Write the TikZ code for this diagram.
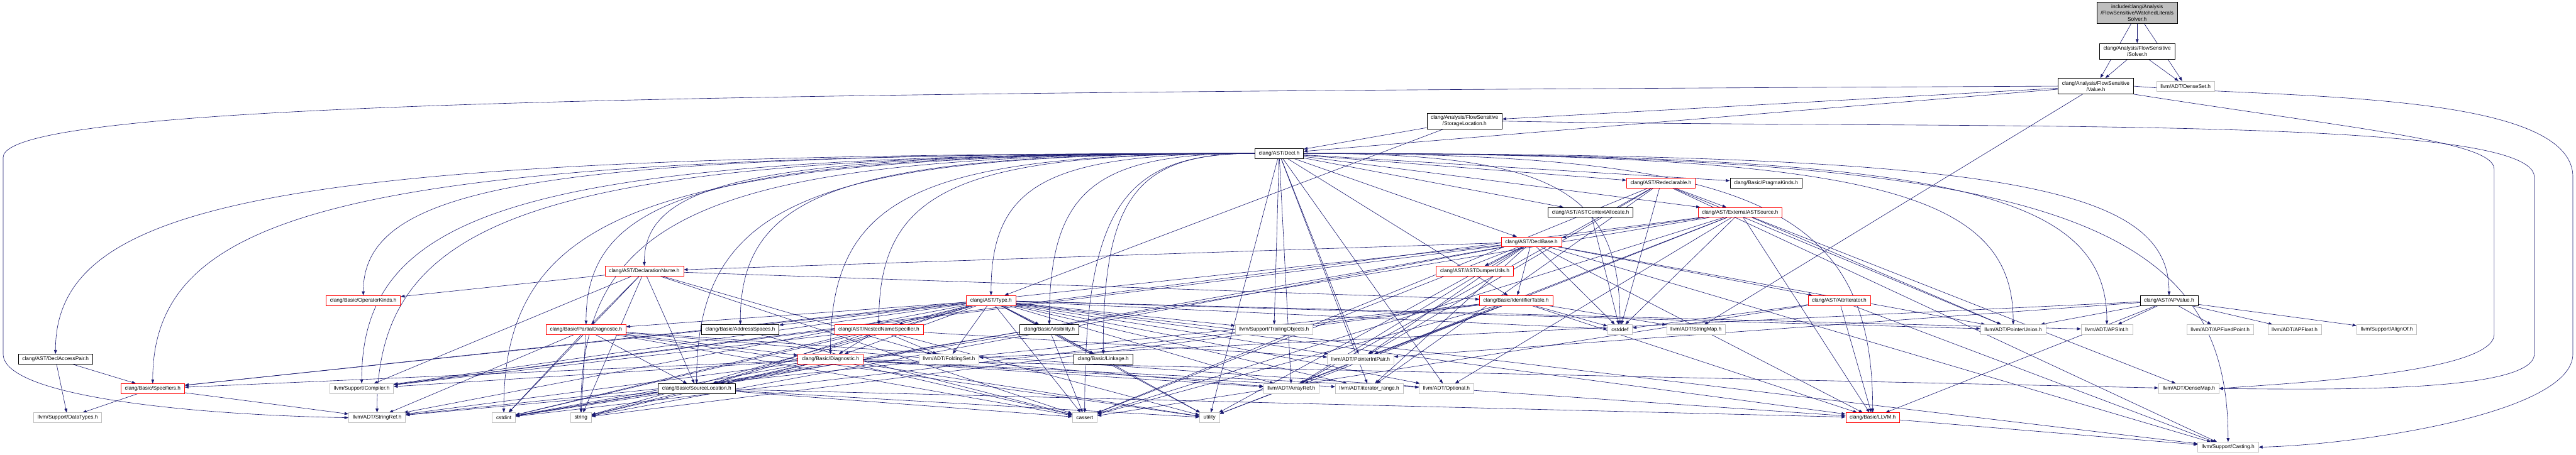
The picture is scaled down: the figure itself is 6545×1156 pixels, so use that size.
\documentclass[tikz,border=0pt]{standalone}
\usepackage{fontspec}
\setmainfont{Liberation Sans}
\usetikzlibrary{arrows.meta,calc}
\definecolor{edgeB}{RGB}{25,25,112}
\definecolor{boxG}{RGB}{191,191,191}
\pgfdeclarelayer{bg}
\pgfsetlayers{bg,main}
\tikzset{
  hdr/.style={draw=black,line width=0.75pt,fill=white,font=\fontsize{10}{12}\selectfont,
    inner xsep=7.5pt,inner ysep=1pt,minimum height=18.75pt,align=center},
  redhdr/.style={hdr,draw=red},
  syshdr/.style={hdr,draw=boxG},
  tallhdr/.style={hdr,minimum height=30pt},
  dep/.style={edgeB,line width=0.75pt,-{Triangle[length=7.5pt,width=5.5pt]}},
  lpath/.style={to path={.. controls ($(\tikztostart)!0.8!(\tikztostart -| \tikztotarget)$)
    and ($(\tikztotarget)!0.8!(\tikztostart -| \tikztotarget)$) .. (\tikztotarget) \tikztonodes}},
}

\begin{document}
\begin{tikzpicture}[x=0.75pt,y=0.75pt]
\useasboundingbox (0,0) rectangle (6545,-1156);
% headers, one row per rank
\node[hdr,fill=boxG,minimum height=41pt] (WLS) at (5430,-33) {include/clang/Analysis\\/FlowSensitive/WatchedLiterals\\Solver.h};
\node[tallhdr] (Solver) at (5430,-130) {clang/Analysis/FlowSensitive\\/Solver.h};
\node[tallhdr] (Value) at (5325,-219) {clang/Analysis/FlowSensitive\\/Value.h};
\node[syshdr] (DenseSet) at (5553,-219) {llvm/ADT/DenseSet.h};
\node[tallhdr] (StorLoc) at (3721,-308) {clang/Analysis/FlowSensitive\\/StorageLocation.h};
\node[hdr] (Decl) at (3250,-390) {clang/AST/Decl.h};
\node[redhdr] (Redecl) at (4220,-465) {clang/AST/Redeclarable.h};
\node[hdr] (Pragma) at (4487,-465) {clang/Basic/PragmaKinds.h};
\node[hdr] (CtxAlloc) at (4041,-540) {clang/AST/ASTContextAllocate.h};
\node[redhdr] (ExtSrc) at (4421,-540) {clang/AST/ExternalASTSource.h};
\node[redhdr] (DeclBase) at (3891,-615) {clang/AST/DeclBase.h};
\node[redhdr] (DName) at (1637,-689) {clang/AST/DeclarationName.h};
\node[redhdr] (Dumper) at (3747,-689) {clang/AST/ASTDumperUtils.h};
\node[redhdr] (OpKinds) at (923,-764) {clang/Basic/OperatorKinds.h};
\node[redhdr] (Type) at (2518,-764) {clang/AST/Type.h};
\node[redhdr] (IdTable) at (3852,-764) {clang/Basic/IdentifierTable.h};
\node[redhdr] (AttrIt) at (4673,-764) {clang/AST/AttrIterator.h};
\node[hdr] (APValue) at (5511,-764) {clang/AST/APValue.h};
\node[redhdr] (PDiag) at (1489,-838) {clang/Basic/PartialDiagnostic.h};
\node[hdr] (AddrSp) at (1881,-838) {clang/Basic/AddressSpaces.h};
\node[redhdr] (NNS) at (2233,-838) {clang/AST/NestedNameSpecifier.h};
\node[hdr] (Visib) at (2666,-838) {clang/Basic/Visibility.h};
\node[syshdr] (Trailing) at (3237,-838) {llvm/Support/TrailingObjects.h};
\node[syshdr] (cstddef) at (4116,-838) {cstddef};
\node[syshdr] (StrMap) at (4309,-838) {llvm/ADT/StringMap.h};
\node[syshdr] (PUnion) at (5115,-838) {llvm/ADT/PointerUnion.h};
\node[syshdr] (APSInt) at (5353,-838) {llvm/ADT/APSInt.h};
\node[syshdr] (APFixed) at (5641,-838) {llvm/ADT/APFixedPoint.h};
\node[syshdr] (APFloat) at (5830,-838) {llvm/ADT/APFloat.h};
\node[syshdr] (AlignOf) at (6064,-838) {llvm/Support/AlignOf.h};
\node[hdr] (DAPair) at (141,-913) {clang/AST/DeclAccessPair.h};
\node[redhdr] (Diag) at (2110,-913) {clang/Basic/Diagnostic.h};
\node[syshdr] (FoldSet) at (2411,-913) {llvm/ADT/FoldingSet.h};
\node[hdr] (Linkage) at (2803,-913) {clang/Basic/Linkage.h};
\node[syshdr] (PIPair) at (3457,-913) {llvm/ADT/PointerIntPair.h};
\node[redhdr] (Spec) at (388,-988) {clang/Basic/Specifiers.h};
\node[syshdr] (Compiler) at (919,-988) {llvm/Support/Compiler.h};
\node[hdr] (SrcLoc) at (1770,-988) {clang/Basic/SourceLocation.h};
\node[syshdr] (ArrayRef) at (3281,-988) {llvm/ADT/ArrayRef.h};
\node[syshdr] (IterRange) at (3479,-988) {llvm/ADT/iterator\_range.h};
\node[syshdr] (Optional) at (3675,-988) {llvm/ADT/Optional.h};
\node[syshdr] (DenseMap) at (5561,-988) {llvm/ADT/DenseMap.h};
\node[syshdr] (DataTypes) at (172,-1062) {llvm/Support/DataTypes.h};
\node[syshdr] (StringRef) at (958,-1062) {llvm/ADT/StringRef.h};
\node[syshdr] (cstdint) at (1280,-1062) {cstdint};
\node[syshdr] (string) at (1476,-1062) {string};
\node[syshdr] (cassert) at (2756,-1062) {cassert};
\node[syshdr] (utility) at (3073,-1062) {utility};
\node[redhdr] (LLVM) at (4758,-1062) {clang/Basic/LLVM.h};
\node[syshdr] (Casting) at (5661,-1137) {llvm/Support/Casting.h};

\begin{pgfonlayer}{bg}
% include edges
\draw[dep] (WLS) edge (Solver) edge (Value) edge (DenseSet);
\draw[dep] (Solver) edge (Value) edge (DenseSet);
\draw[dep] (Value) edge (Decl) edge (StorLoc) edge (StrMap);
\draw[dep] (Value.west) .. controls (2000,-235) and (10,-250) .. (8,-400) -- (8,-900)
  .. controls (8,-1010) and (500,-1055) .. (StringRef.west);
\draw[dep] (Value.south east) .. controls (6000,-330) and (6337,-360) .. (6337,-430) -- (6337,-850)
  .. controls (6337,-950) and (5800,-975) .. (DenseMap.east);
\draw[dep] (Value.east) .. controls (5800,-250) and (6537,-230) .. (6537,-450) -- (6537,-900)
  .. controls (6537,-1050) and (6000,-1130) .. (Casting.east);
\draw[dep] (StorLoc) edge (Decl) edge (Type);
\draw[dep] (StorLoc.east) .. controls (5000,-330) and (6439,-290) .. (6439,-450) -- (6439,-900)
  .. controls (6439,-1000) and (5900,-990) .. (DenseMap.east);
\draw[dep] (Decl) edge (CtxAlloc) edge (Redecl) edge (Pragma) edge (ExtSrc) edge (DeclBase)
  edge (IdTable) edge (Trailing) edge (ArrayRef) edge (PIPair) edge (IterRange) edge (Optional) edge (utility)
  edge[lpath] (APValue) edge[lpath] (PUnion) edge[lpath] (APSInt) edge[lpath] (LLVM) edge[lpath] (Casting)
  edge[lpath] (cstddef)
  edge[lpath] (DAPair) edge[lpath] (OpKinds) edge[lpath] (Spec) edge[lpath] (Compiler)
  edge[lpath] (StringRef) edge[lpath] (cstdint) edge[lpath] (string) edge[lpath] (DName)
  edge[lpath] (PDiag) edge[lpath] (SrcLoc) edge[lpath] (AddrSp) edge[lpath] (Diag)
  edge[lpath] (NNS) edge[lpath] (Type) edge[lpath] (Visib) edge[lpath] (Linkage) edge[lpath] (cassert);
\draw[dep] (Redecl) edge (ExtSrc) edge (ArrayRef) edge (PIPair) edge (PUnion) edge (IterRange)
  edge (Casting) edge (cassert) edge (cstddef);
\draw[dep] (ExtSrc) edge (DeclBase) edge (LLVM) edge (ArrayRef) edge (DenseMap) edge (Optional)
  edge (PUnion) edge (Compiler) edge (cassert) edge (cstddef) edge (cstdint) edge (utility);
\draw[dep] (CtxAlloc) edge (cstddef);
\draw[dep] (DeclBase) edge (Dumper) edge (AttrIt) edge (DName) edge (IdTable) edge (LLVM) edge (SrcLoc)
  edge (Spec) edge (ArrayRef) edge (PIPair) edge (PUnion) edge (IterRange) edge (Casting)
  edge (Compiler) edge (cassert) edge (cstddef) edge (string) edge (utility);
\draw[dep] (AttrIt) edge (LLVM) edge (Casting) edge (cassert) edge (cstddef);
\draw[dep] (IdTable) edge (LLVM) edge (PIPair) edge (StrMap) edge (StringRef) edge (cassert)
  edge (cstddef) edge (cstdint) edge (string) edge (utility);
\draw[dep] (DName) edge (IdTable) edge (OpKinds) edge (PDiag) edge (SrcLoc) edge (FoldSet)
  edge (Compiler) edge (cassert) edge (cstdint) edge (string);
\draw[dep] (Type) edge (NNS) edge (AddrSp) edge (Diag) edge (LLVM) edge (Linkage) edge (PDiag)
  edge (SrcLoc) edge (Spec) edge (Visib) edge (APSInt) edge (ArrayRef) edge (FoldSet) edge (Optional)
  edge (PIPair) edge (PUnion) edge (StringRef) edge (IterRange) edge (Casting) edge (Compiler)
  edge (Trailing) edge (cassert) edge (cstddef) edge (cstdint) edge (string) edge (utility);
\draw[dep] (NNS) edge (Diag) edge (SrcLoc) edge (FoldSet) edge (PIPair) edge (Compiler)
  edge (cstdint) edge (utility);
\draw[dep] (Visib) edge (Linkage) edge (cassert) edge (cstdint);
\draw[dep] (Linkage) edge (utility);
\draw[dep] (AddrSp) edge (cassert);
\draw[dep] (Diag) edge (SrcLoc) edge (Spec) edge (ArrayRef) edge (DenseMap) edge (Optional)
  edge (StringRef) edge (IterRange) edge (Compiler) edge (cassert) edge (cstdint) edge (string) edge (utility);
\draw[dep] (PDiag) edge (Diag) edge (LLVM) edge (SrcLoc) edge (ArrayRef) edge (StringRef)
  edge (cassert) edge (cstdint) edge (string) edge (utility);
\draw[dep] (SrcLoc) edge (LLVM) edge (StringRef) edge (cassert) edge (cstdint) edge (string) edge (utility);
\draw[dep] (Spec) edge (DataTypes) edge (StringRef);
\draw[dep] (DAPair) edge (Spec) edge (DataTypes);
\draw[dep] (APValue) edge (APSInt) edge (APFixed) edge (APFloat) edge (AlignOf) edge (PUnion)
  edge (PIPair) edge (FoldSet) edge (LLVM);
\draw[dep] (LLVM) edge (Casting);
\end{pgfonlayer}
\end{tikzpicture}
\end{document}
